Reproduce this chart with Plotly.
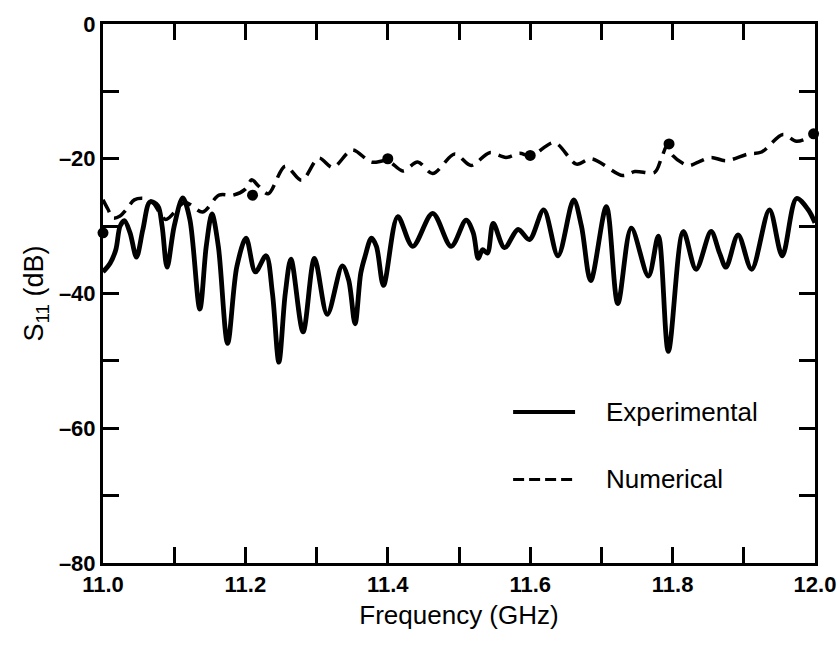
import plotly.graph_objects as go

# Experimental S11 (solid)
exp_freq = [11.000, 11.010, 11.018, 11.024, 11.030, 11.038, 11.047, 11.056, 11.066, 11.077,
            11.083, 11.090, 11.100, 11.112, 11.122, 11.136, 11.145, 11.153, 11.162, 11.175,
            11.188, 11.201, 11.214, 11.229, 11.238, 11.247, 11.256, 11.264, 11.281, 11.297,
            11.315, 11.336, 11.345, 11.354, 11.362, 11.368, 11.377, 11.384, 11.394, 11.414,
            11.435, 11.463, 11.489, 11.510, 11.520, 11.527, 11.533, 11.540, 11.548, 11.564,
            11.583, 11.599, 11.619, 11.639, 11.661, 11.672, 11.685, 11.707, 11.723, 11.742,
            11.766, 11.780, 11.794, 11.815, 11.833, 11.854, 11.866, 11.875, 11.892, 11.911,
            11.936, 11.954, 11.974, 11.990, 12.000]
exp_s11 = [-36.8, -35.5, -33.5, -30.0, -29.2, -31.0, -34.6, -30.5, -26.4, -27.0,
           -30.0, -36.1, -30.0, -25.8, -29.0, -42.3, -33.0, -28.2, -33.0, -47.4,
           -36.0, -31.8, -36.8, -34.4, -40.0, -50.2, -40.0, -34.9, -45.7, -34.8,
           -43.1, -35.9, -38.0, -44.5, -37.0, -34.5, -31.8, -33.0, -38.8, -28.6,
           -33.0, -28.1, -33.0, -29.1, -31.0, -34.8, -33.5, -34.0, -29.6, -33.2,
           -30.5, -32.0, -27.6, -34.4, -26.1, -30.0, -38.1, -27.1, -41.5, -30.3,
           -37.4, -31.5, -48.6, -30.8, -36.4, -30.8, -34.0, -36.1, -31.3, -36.4,
           -27.6, -34.4, -25.9, -27.5, -29.5]

# Numerical S11 (dashed)
num_freq = [11.000, 11.007, 11.014, 11.024, 11.033, 11.044, 11.058, 11.070, 11.088, 11.115,
            11.140, 11.163, 11.183, 11.200, 11.209, 11.218, 11.232, 11.256, 11.279, 11.303,
            11.323, 11.350, 11.377, 11.400, 11.421, 11.442, 11.463, 11.494, 11.517, 11.543,
            11.566, 11.585, 11.601, 11.634, 11.665, 11.686, 11.730, 11.747, 11.775, 11.784,
            11.793, 11.800, 11.822, 11.836, 11.854, 11.875, 11.906, 11.925, 11.955, 11.974,
            11.998]
num_s11 = [-26.1, -27.5, -28.8, -28.5, -27.5, -26.1, -25.9, -26.5, -29.0, -26.5,
           -27.9, -25.4, -25.4, -24.5, -23.1, -24.0, -25.2, -21.1, -23.2, -19.9,
           -21.3, -18.7, -20.5, -20.3, -21.8, -20.5, -22.2, -19.3, -21.0, -19.1,
           -19.8, -19.2, -19.6, -17.6, -20.8, -20.0, -22.5, -21.9, -22.0, -20.0,
           -17.9, -19.5, -21.0, -20.5, -19.8, -20.3, -19.3, -19.0, -16.4, -17.4,
           -16.5]

# Marked points on numerical curve
dot_freq = [11.0, 11.21, 11.40, 11.60, 11.795, 11.998]
dot_s11 = [-31.0, -25.4, -20.0, -19.5, -17.8, -16.3]

x_tickvals = [11.0, 11.1, 11.2, 11.3, 11.4, 11.5, 11.6, 11.7, 11.8, 11.9, 12.0]
x_ticktext = ["11.0", "", "11.2", "", "11.4", "", "11.6", "", "11.8", "", "12.0"]
y_tickvals = [0, -10, -20, -30, -40, -50, -60, -70, -80]
y_ticktext = ["0", "", "\u201320", "", "\u201340", "", "\u201360", "", "\u201380"]

legend_names = ["Experimental", "Numerical"]

FONT = "Liberation Sans, Arial, sans-serif"

fig = go.Figure()
fig.add_trace(go.Scatter(x=exp_freq, y=exp_s11, mode="lines",
                         line=dict(color="black", width=4.8, shape="spline", smoothing=0.9),
                         showlegend=False))
fig.add_trace(go.Scatter(x=num_freq, y=num_s11, mode="lines",
                         line=dict(color="black", width=3.5, dash="14px,8px", shape="spline", smoothing=0.9),
                         showlegend=False))
fig.add_trace(go.Scatter(x=dot_freq, y=dot_s11, mode="markers",
                         marker=dict(color="black", size=11), showlegend=False, cliponaxis=False))

# legend drawn manually
leg_y = [-57.6, -67.6]
fig.add_shape(type="line", x0=11.576, x1=11.663, y0=leg_y[0], y1=leg_y[0], xref="x", yref="y",
              line=dict(color="black", width=4))
fig.add_shape(type="line", x0=11.576, x1=11.663, y0=leg_y[1], y1=leg_y[1], xref="x", yref="y",
              line=dict(color="black", width=3, dash="11px,5px"))
for name, yy in zip(legend_names, leg_y):
    fig.add_annotation(x=11.703, y=yy, xref="x", yref="y", text=name, showarrow=False,
                       xanchor="left", yanchor="middle",
                       font=dict(family=FONT, size=26, color="black"))

fig.update_layout(
    width=839, height=646,
    margin=dict(l=103, r=24, t=24, b=83),
    plot_bgcolor="white", paper_bgcolor="white",
    font=dict(family=FONT, color="black"),
)
fig.update_xaxes(range=[11.0, 12.0], tickvals=x_tickvals, ticktext=x_ticktext, automargin=False,
                 ticks="inside", ticklen=16, tickwidth=2.5, tickcolor="black",
                 showline=True, linecolor="black", linewidth=3, mirror="ticks",
                 showgrid=False, zeroline=False,
                 tickfont=dict(family=FONT, size=22, weight="bold"),
                 title=dict(text="Frequency (GHz)", font=dict(family=FONT, size=26), standoff=10))
fig.update_yaxes(range=[-80, 0], tickvals=y_tickvals, ticktext=y_ticktext, automargin=False,
                 ticks="inside", ticklen=16, tickwidth=2.5, tickcolor="black",
                 showline=True, linecolor="black", linewidth=3, mirror="ticks",
                 showgrid=False, zeroline=False,
                 tickfont=dict(family=FONT, size=22, weight="bold"),
                 title=dict(text="S<sub>11</sub> (dB)", font=dict(family=FONT, size=27), standoff=8))

fig.write_html("out.html", config={"displayModeBar": False},
               post_script="document.body.style.margin='0';")
